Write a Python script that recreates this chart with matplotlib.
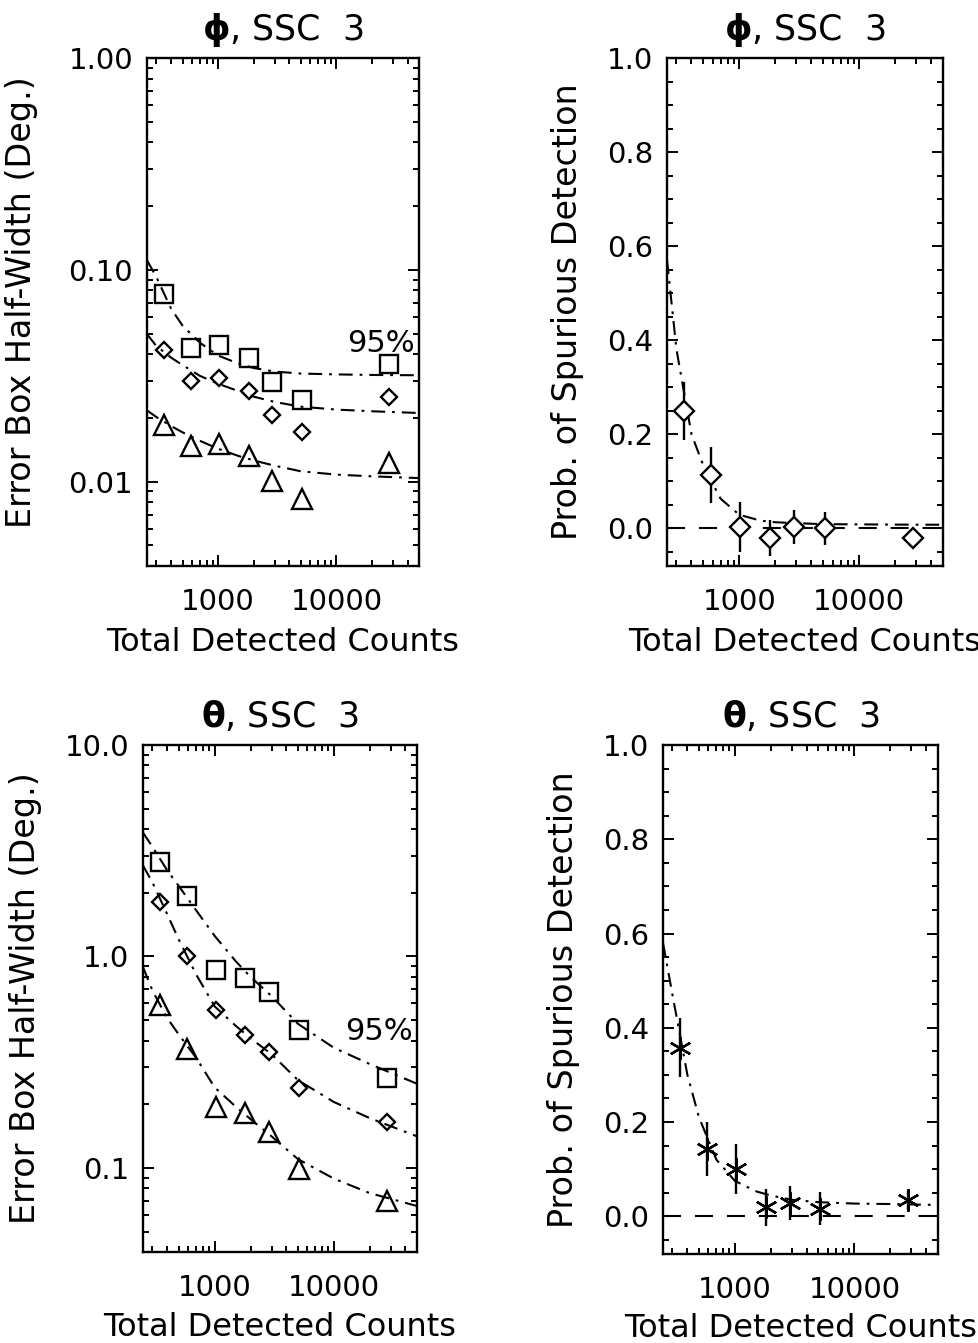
import matplotlib
matplotlib.use("Agg")
import matplotlib.pyplot as plt
from matplotlib.ticker import FixedLocator, FixedFormatter, NullFormatter, MultipleLocator, FormatStrFormatter

plt.rcParams['font.family'] = ['DejaVu Sans']
plt.rcParams['lines.scale_dashes'] = False
plt.rcParams['mathtext.fontset'] = 'dejavusans'

# ---------------- data ----------------
counts = [345, 585, 1020, 1810, 2880, 5150, 28000]
curve_counts = [250, 300, 400, 500, 700, 1000, 1500, 2000, 3000, 5000, 10000, 20000, 50000]

# phi: error box half-width (deg)
phi_95 = [0.0769, 0.0427, 0.0443, 0.0385, 0.0295, 0.0243, 0.0358]
phi_mid = [0.0417, 0.0299, 0.0310, 0.0267, 0.0207, 0.0171, 0.0251]
phi_low = [0.0186, 0.0147, 0.0151, 0.0132, 0.0101, 0.0083, 0.0122]
phi_95_fit = [0.111, 0.0925, 0.0655, 0.0545, 0.0453, 0.0394, 0.0360, 0.0344, 0.0331, 0.0324, 0.0321, 0.0319, 0.0318]
phi_mid_fit = [0.0497, 0.0437, 0.0385, 0.0355, 0.0316, 0.0290, 0.0267, 0.0252, 0.0238, 0.0226, 0.0219, 0.0215, 0.0211]
phi_low_fit = [0.0217, 0.0202, 0.0183, 0.0171, 0.0156, 0.0143, 0.0132, 0.0126, 0.0119, 0.0112, 0.0108, 0.0106, 0.0104]

# theta: error box half-width (deg)
theta_95 = [2.79, 1.93, 0.859, 0.794, 0.676, 0.447, 0.267]
theta_mid = [1.80, 1.00, 0.555, 0.427, 0.355, 0.238, 0.164]
theta_low = [0.589, 0.363, 0.195, 0.182, 0.147, 0.0986, 0.0698]
theta_95_fit = [3.85, 3.30, 2.55, 2.15, 1.65, 1.25, 0.95, 0.80, 0.65, 0.48, 0.37, 0.31, 0.25]
theta_mid_fit = [2.69, 2.24, 1.58, 1.20, 0.82, 0.58, 0.47, 0.41, 0.345, 0.26, 0.205, 0.172, 0.141]
theta_low_fit = [0.89, 0.69, 0.51, 0.427, 0.331, 0.24, 0.195, 0.17, 0.141, 0.11, 0.089, 0.076, 0.066]

# probability of spurious detection
phi_spur = [0.250, 0.113, 0.002, -0.021, 0.002, 0.000, -0.021]
phi_spur_err = [0.062, 0.059, 0.053, 0.038, 0.036, 0.035, 0.012]
phi_spur_fit = [0.57, 0.38, 0.20, 0.135, 0.063, 0.029, 0.0165, 0.013, 0.011, 0.009, 0.0085, 0.008, 0.0077]

theta_spur = [0.358, 0.143, 0.100, 0.019, 0.028, 0.016, 0.034]
theta_spur_err = [0.0625, 0.058, 0.053, 0.039, 0.036, 0.035, 0.020]
theta_spur_fit = [0.58, 0.47, 0.30, 0.21, 0.12, 0.075, 0.053, 0.044, 0.035, 0.030, 0.027, 0.026, 0.024]

x_ticks = [1000, 10000]
x_ticklabels = ["1000", "10000"]
x_minor = [300, 400, 500, 600, 700, 800, 900, 2000, 3000, 4000, 5000, 6000, 7000, 8000, 9000,
           20000, 30000, 40000, 50000]

# ---------------- figure ----------------
W, H = 979, 1343
fig = plt.figure(figsize=(W / 100, H / 100), dpi=100)

def px_axes(left, top, right, bottom):
    return fig.add_axes([left / W, 1 - bottom / H, (right - left) / W, (bottom - top) / H])

TICK_FS = 21
LABEL_FS = 23
TITLE_FS = 25
LW = 1.5
DASHDOT = (10, 5, 2, 5)

def style(ax, xlabelpad):
    for s in ax.spines.values():
        s.set_linewidth(1.7)
    ax.set_xscale('log')
    ax.set_xlim(250, 50000)
    ax.xaxis.set_major_locator(FixedLocator(x_ticks))
    ax.xaxis.set_major_formatter(FixedFormatter(x_ticklabels))
    ax.xaxis.set_minor_locator(FixedLocator(x_minor))
    ax.xaxis.set_minor_formatter(NullFormatter())
    ax.tick_params(which='both', direction='in', top=True, right=True, width=1.4, labelsize=TICK_FS)
    ax.tick_params(which='major', length=8)
    ax.tick_params(which='minor', length=4)
    ax.tick_params(axis='x', which='major', pad=16)
    ax.tick_params(axis='y', which='major', pad=10)
    ax.set_xlabel("Total Detected Counts", labelpad=xlabelpad, fontsize=LABEL_FS)

def err_box(ax, d95, dmid, dlow, f95, fmid, flow, ylim, yt, ytl, yminor, title, label95_y, xlabelpad):
    style(ax, xlabelpad)
    ax.set_yscale('log')
    ax.set_ylim(*ylim)
    ax.yaxis.set_major_locator(FixedLocator(yt))
    ax.yaxis.set_major_formatter(FixedFormatter(ytl))
    ax.yaxis.set_minor_locator(FixedLocator(yminor))
    ax.yaxis.set_minor_formatter(NullFormatter())
    for fit in (f95, fmid, flow):
        ax.plot(curve_counts, fit, color='black', lw=LW, dashes=DASHDOT)
    ax.plot(counts, d95, ls='none', marker='s', ms=13, mfc='none', mec='black', mew=1.7)
    ax.plot(counts, dmid, ls='none', marker='D', ms=8.5, mfc='none', mec='black', mew=1.7)
    ax.plot(counts, dlow, ls='none', marker='^', ms=14, mfc='none', mec='black', mew=1.7)
    ax.text(46000, label95_y, "95%", ha='right', va='center', fontsize=TICK_FS + 1)
    ax.set_title(title, pad=13, fontsize=TITLE_FS)
    ax.set_ylabel("Error Box Half-Width (Deg.)", fontsize=LABEL_FS + 1)

def spur(ax, vals, errs, fit, marker, ms, title, xlabelpad):
    style(ax, xlabelpad)
    ax.set_ylim(-0.08, 1.0)
    ax.yaxis.set_major_locator(MultipleLocator(0.2))
    ax.yaxis.set_minor_locator(MultipleLocator(0.05))
    ax.yaxis.set_major_formatter(FormatStrFormatter('%.1f'))
    ax.axhline(0.0, color='black', lw=LW, dashes=(13, 10))
    ax.plot(curve_counts, fit, color='black', lw=LW, dashes=DASHDOT)
    ax.errorbar(counts, vals, yerr=errs, ls='none', ecolor='black', elinewidth=1.7, capsize=0,
                marker=marker, ms=ms, mfc='white', mec='black', mew=1.7)
    ax.set_title(title, pad=13, fontsize=TITLE_FS)
    ax.set_ylabel("Prob. of Spurious Detection", fontsize=LABEL_FS + 1)

ax1 = px_axes(147, 58, 419, 566)
err_box(ax1, phi_95, phi_mid, phi_low, phi_95_fit, phi_mid_fit, phi_low_fit,
        (0.004, 1.0), [0.01, 0.1, 1.0], ["0.01", "0.10", "1.00"],
        [0.005, 0.006, 0.007, 0.008, 0.009, 0.02, 0.03, 0.04, 0.05, 0.06, 0.07, 0.08, 0.09,
         0.2, 0.3, 0.4, 0.5, 0.6, 0.7, 0.8, 0.9],
        r"$\mathbf{\phi}$, SSC  3", 0.045, 8)
ax1.yaxis.set_label_coords(-0.40, 0.52)

ax2 = px_axes(667, 58, 943, 566)
spur(ax2, phi_spur, phi_spur_err, phi_spur_fit, 'D', 10, r"$\mathbf{\phi}$, SSC  3", 8)
ax2.yaxis.set_label_coords(-0.30, 0.5)

ax3 = px_axes(143, 745, 417, 1252)
err_box(ax3, theta_95, theta_mid, theta_low, theta_95_fit, theta_mid_fit, theta_low_fit,
        (0.04, 10.0), [0.1, 1.0, 10.0], ["0.1", "1.0", "10.0"],
        [0.05, 0.06, 0.07, 0.08, 0.09, 0.2, 0.3, 0.4, 0.5, 0.6, 0.7, 0.8, 0.9,
         2, 3, 4, 5, 6, 7, 8, 9],
        r"$\mathbf{\theta}$, SSC  3", 0.44, 7)
ax3.yaxis.set_label_coords(-0.37, 0.5)

ax4 = px_axes(663, 745, 938, 1254)
spur(ax4, theta_spur, theta_spur_err, theta_spur_fit, (6, 2, 0), 16, r"$\mathbf{\theta}$, SSC  3", 6)
ax4.yaxis.set_label_coords(-0.30, 0.5)

fig.savefig("out.png", dpi=100)
